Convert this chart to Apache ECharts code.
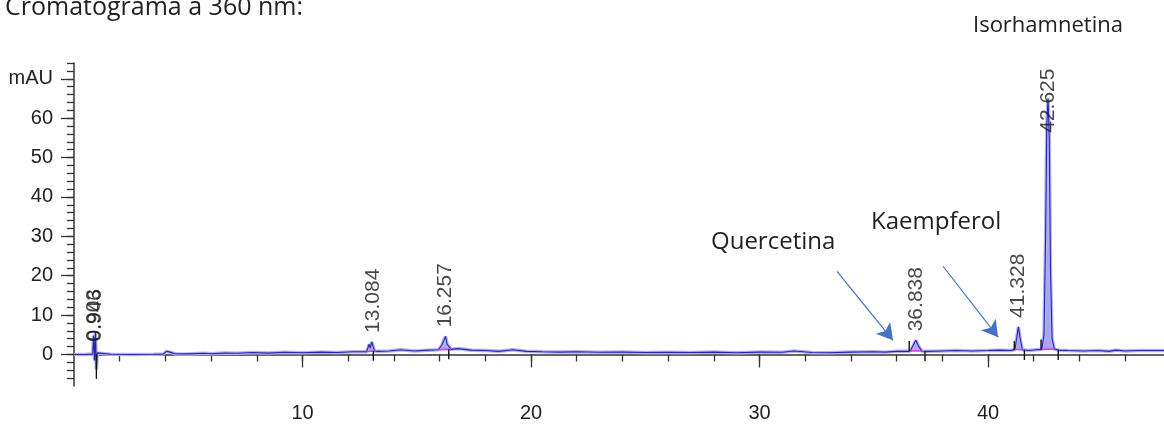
<!DOCTYPE html>
<html>
<head>
<meta charset="utf-8">
<script src="https://cdn.jsdelivr.net/npm/echarts@6/dist/echarts.min.js"></script>
<style>
  html, body { margin: 0; padding: 0; background: #fff; }
  #chart { width: 1164px; height: 427px; }
</style>
</head>
<body>
<div id="chart"></div>
<script>
// Detector trace at 360 nm: retention time (min) and absorbance (mAU)
const retentionTimes = [
  0, 0.5, 0.82, 0.86, 0.9, 0.94, 0.98, 1.02, 1.1, 1.6, 2.5, 3.5, 3.9, 4.05, 4.2, 4.4,
  5.0, 5.7, 6.0, 6.6, 7.1, 7.8, 8.5, 9.2, 10.0, 10.8, 11.5, 12.2, 12.8, 12.92, 12.97,
  13.03, 13.08, 13.15, 13.3, 13.8, 14.3, 14.9, 15.5, 15.95, 16.1, 16.18, 16.26, 16.33,
  16.5, 16.8, 17.4, 18.0, 18.6, 19.2, 19.8, 20.5, 21.3, 22.0, 23.0, 24.0, 25.0, 26.0,
  27.0, 28.0, 29.0, 30.0, 31.0, 31.5, 32.3, 33.0, 34.0, 35.0, 35.5, 36.0, 36.5, 36.6,
  36.75, 36.84, 36.95, 37.1, 37.4, 38.0, 38.6, 39.3, 40.0, 40.5, 41.0, 41.18, 41.26,
  41.33, 41.4, 41.5, 41.8, 42.1, 42.35, 42.45, 42.52, 42.57, 42.625, 42.68, 42.73,
  42.8, 42.9, 43.1, 43.5, 44.2, 44.8, 45.3, 45.6, 46.0, 46.6, 47.2, 47.7
];
const absorbance = [
  0, 0, 0.1, 4.8, -1.5, 5.6, -3.8, 0.4, 0, 0.05, 0, 0.05, 0.1, 0.8, 0.6, 0.2,
  0.15, 0.3, 0.2, 0.35, 0.3, 0.5, 0.35, 0.55, 0.45, 0.6, 0.5, 0.7, 0.7, 2.6, 1.6,
  3.2, 2.9, 0.9, 0.8, 0.9, 1.2, 0.9, 1.1, 1.2, 2.4, 2.0, 4.6, 2.6,
  1.3, 1.5, 1.1, 1.0, 0.8, 1.2, 0.8, 0.7, 0.6, 0.7, 0.55, 0.6, 0.5, 0.55,
  0.5, 0.6, 0.45, 0.6, 0.55, 0.9, 0.5, 0.45, 0.6, 0.7, 0.6, 0.8, 0.8, 0.9,
  2.6, 3.6, 2.2, 0.9, 0.8, 0.9, 1.0, 0.9, 1.0, 1.1, 1.0, 1.3, 4.5,
  7.0, 4.2, 1.2, 1.0, 1.2, 1.3, 5.0, 30, 58, 65, 55, 22,
  4.0, 1.4, 1.1, 1.0, 0.9, 1.0, 0.8, 1.1, 0.9, 1.0, 1.0, 1.0
];

// Integrated peaks: retention time labels and apex heights (mAU)
const peakTimes = [0.903, 0.946, 13.084, 16.257, 36.838, 41.328, 42.625];
const peakHeights = [1.0, 1.0, 3.2, 4.6, 3.6, 7.0, 65];

// Integration windows (min) for the shaded peak areas
const areaStart = [12.8, 15.95, 36.6, 41.18, 42.35];
const areaEnd = [13.15, 16.5, 37.1, 41.5, 42.9];

// Peak start / end event marks: time, from level, to level (mAU)
const eventTimes = [0.98, 13.1, 16.4, 36.55, 37.24, 41.15, 41.59, 42.32, 43.07];
const eventFrom = [0, 0.9, 1.3, 0.9, 0.8, 1.1, 1.1, 1.3, 1.1];
const eventTo = [-6.2, -1.6, -1.2, 3.4, -1.7, 3.4, -1.4, 3.8, -1.4];

// Axis ticks
const xMajorTicks = [10, 20, 30, 40];
const yMajorTicks = [0, 10, 20, 30, 40, 50, 60, 70];
const yUnitLabel = 'mAU';

const xMinorTicks = [];
for (let v = 2; v <= 46; v += 2) xMinorTicks.push(v);
const yMinorTicks = [];
for (let v = -6; v <= 74; v += 2) yMinorTicks.push(v);

const trace = retentionTimes.map((t, i) => [t, absorbance[i]]);

function levelAt(t) {
  let best = 0;
  for (let k = 1; k < retentionTimes.length; k++) {
    if (Math.abs(retentionTimes[k] - t) < Math.abs(retentionTimes[best] - t)) best = k;
  }
  return absorbance[best];
}

const axisFont = { fontFamily: 'Liberation Sans, Arial, sans-serif', fontSize: 20, color: '#222' };
const noteFont = 'Open Sans, Noto Sans, sans-serif';

const chart = echarts.init(document.getElementById('chart'), null, { renderer: 'canvas' });

const option = {
  animation: false,
  backgroundColor: '#fff',
  grid: { left: 74, right: 0, top: 63, bottom: 41, containLabel: false },
  xAxis: [
    {
      type: 'value', min: 0, max: 47.7,
      axisLine: { show: true, lineStyle: { color: '#333', width: 1.5 } },
      axisTick: { show: true, customValues: xMinorTicks, length: 7, lineStyle: { color: '#333', width: 1.3 } },
      axisLabel: { show: false },
      splitLine: { show: false }
    },
    {
      type: 'value', min: 0, max: 47.7, position: 'bottom',
      axisLine: { show: false },
      axisTick: { show: true, customValues: xMajorTicks, length: 13, lineStyle: { color: '#333', width: 1.3 } },
      axisLabel: Object.assign({ show: true, customValues: xMajorTicks, margin: 17 }, axisFont),
      splitLine: { show: false }
    }
  ],
  yAxis: [
    {
      type: 'value', min: -8, max: 74,
      axisLine: { show: true, lineStyle: { color: '#333', width: 1.5 } },
      axisTick: { show: true, customValues: yMinorTicks, length: 7, lineStyle: { color: '#333', width: 1.3 } },
      axisLabel: { show: false },
      splitLine: { show: false }
    },
    {
      type: 'value', min: -8, max: 74, position: 'left',
      axisLine: { show: false },
      axisTick: { show: true, customValues: yMajorTicks, length: 13, lineStyle: { color: '#333', width: 1.3 } },
      axisLabel: Object.assign({
        show: true, customValues: yMajorTicks, margin: 21,
        formatter: v => (v === 70 ? yUnitLabel : String(v))
      }, axisFont),
      splitLine: { show: false }
    }
  ],
  series: [
    {
      // shaded integrated peak areas
      type: 'custom',
      xAxisIndex: 0, yAxisIndex: 0,
      silent: true, z: 1,
      data: areaStart.map((s, i) => [s, areaEnd[i]]),
      renderItem: function (params, api) {
        const s = areaStart[params.dataIndex], e = areaEnd[params.dataIndex];
        const pts = [api.coord([s, levelAt(s)])];
        for (let k = 0; k < retentionTimes.length; k++) {
          const t = retentionTimes[k];
          if (t >= s && t <= e) pts.push(api.coord([t, absorbance[k]]));
        }
        pts.push(api.coord([e, levelAt(e)]));
        return { type: 'polygon', shape: { points: pts }, style: { fill: '#a6a6f0' } };
      }
    },
    {
      // soft halo under the detector trace
      type: 'line', data: trace, xAxisIndex: 0, yAxisIndex: 0,
      showSymbol: false, silent: true, z: 2,
      lineStyle: { color: '#b2b2f3', width: 3.5 }
    },
    {
      // detector trace
      type: 'line', data: trace, xAxisIndex: 0, yAxisIndex: 0,
      showSymbol: false, silent: true, z: 3,
      lineStyle: { color: '#2626ac', width: 1.1 }
    },
    {
      // drawn baselines under the integrated peaks
      type: 'custom', xAxisIndex: 0, yAxisIndex: 0, silent: true, z: 4,
      data: areaStart.map((s, i) => [s, areaEnd[i]]),
      renderItem: function (params, api) {
        const s = areaStart[params.dataIndex], e = areaEnd[params.dataIndex];
        const p0 = api.coord([s, levelAt(s)]), p1 = api.coord([e, levelAt(e)]);
        return { type: 'line', shape: { x1: p0[0], y1: p0[1], x2: p1[0], y2: p1[1] },
                 style: { stroke: '#e23de2', lineWidth: 1.6 } };
      }
    },
    {
      // peak start / end event marks
      type: 'custom', xAxisIndex: 0, yAxisIndex: 0, silent: true, z: 5,
      data: eventTimes.map((t, i) => [t, eventFrom[i], eventTo[i]]),
      renderItem: function (params, api) {
        const t = api.value(0);
        const p0 = api.coord([t, api.value(1)]), p1 = api.coord([t, api.value(2)]);
        return { type: 'line', shape: { x1: p0[0], y1: p0[1], x2: p1[0], y2: p1[1] },
                 style: { stroke: '#111', lineWidth: 1.4 } };
      }
    },
    {
      // retention-time labels above each integrated peak
      type: 'scatter', xAxisIndex: 0, yAxisIndex: 0, silent: true, z: 6,
      symbolSize: 0,
      data: peakTimes.map((t, i) => [t, Math.min(peakHeights[i], 54)]),
      label: {
        show: true, position: 'top', distance: 9, rotate: 90,
        align: 'left', verticalAlign: 'middle',
        fontFamily: 'Liberation Sans, Arial, sans-serif', fontSize: 21, color: '#1a1a1a',
        formatter: p => p.value[0].toFixed(3)
      },
      markLine: {
        silent: true, animation: false,
        symbol: ['none', 'arrow'], symbolSize: [14, 16],
        label: { show: false },
        lineStyle: { color: '#4472c4', width: 1.2, type: 'solid' },
        data: [
          [{ coord: [33.39, 21.1] }, { coord: [35.84, 3.6] }],
          [{ coord: [38.03, 22.4] }, { coord: [40.44, 4.4] }]
        ]
      }
    }
  ],
  graphic: [
    { type: 'text', left: 5, top: -5, silent: true,
      style: { text: 'Cromatograma a 360 nm:', font: '25px ' + noteFont, fill: '#222' } },
    { type: 'text', left: 973, top: 15, silent: true,
      style: { text: 'Isorhamnetina', font: '22px ' + noteFont, fill: '#222' } },
    { type: 'text', left: 871, top: 210, silent: true,
      style: { text: 'Kaempferol', font: '24px ' + noteFont, fill: '#222' } },
    { type: 'text', left: 711, top: 230, silent: true,
      style: { text: 'Quercetina', font: '24px ' + noteFont, fill: '#222' } }
  ]
};

chart.setOption(option);
</script>
</body>
</html>
